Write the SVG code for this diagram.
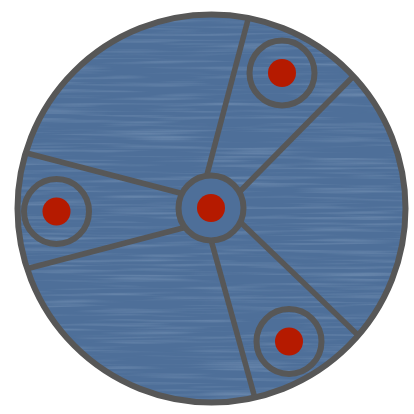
<svg xmlns="http://www.w3.org/2000/svg" width="414" height="414" viewBox="0 0 414 414">
  <style>
    .edge { stroke: #575757; stroke-width: 5.5; fill: none; stroke-linecap: butt; }
    .ring { stroke: #575757; stroke-width: 6; fill: none; }
    .dot { fill: #b51a00; }
  </style>
  <defs>
    <clipPath id="disc"><circle cx="211.5" cy="208.5" r="194"/></clipPath>
    <filter id="streaks" x="0" y="0" width="100%" height="100%">
      <feTurbulence type="fractalNoise" baseFrequency="0.01 0.3" numOctaves="2" seed="3" result="n"/>
      <feColorMatrix in="n" type="matrix" values="0 0 0 0 0.40  0 0 0 0 0.53  0 0 0 0 0.70  0 0 0 1.4 -0.65"/>
    </filter>
  </defs>
  <rect width="414" height="414" fill="#ffffff"/>
  <g id="background" clip-path="url(#disc)">
    <rect x="0" y="0" width="414" height="414" fill="#4e6f99"/>
    <rect x="0" y="0" width="414" height="414" filter="url(#streaks)" opacity="0.5"/>
  </g>
  <g id="connectors" clip-path="url(#disc)">
    <line class="edge" x1="203.5" y1="187.8" x2="249.6" y2="13.5"/>
    <line class="edge" x1="231.8" y1="199.7" x2="355.8" y2="73.7"/>
    <line class="edge" x1="193.5" y1="196.5" x2="22.5" y2="152"/>
    <line class="edge" x1="196.2" y1="224.5" x2="25.9" y2="269"/>
    <line class="edge" x1="208" y1="228.9" x2="256.3" y2="403"/>
    <line class="edge" x1="232.5" y1="214.6" x2="359.6" y2="336.8"/>
  </g>
  <g id="outer">
    <circle class="ring" cx="211.5" cy="208.5" r="194"/>
  </g>
  <g id="node-center">
    <circle cx="211" cy="208" r="32.5" fill="#4e6f99" stroke="#575757" stroke-width="6"/>
    <circle class="dot" cx="211" cy="208" r="14"/>
  </g>
  <g id="node-top-right">
    <circle class="ring" cx="282" cy="73" r="32.5"/>
    <circle class="dot" cx="282" cy="73" r="14"/>
  </g>
  <g id="node-left">
    <circle class="ring" cx="56.5" cy="211.5" r="32.5"/>
    <circle class="dot" cx="56.5" cy="211.5" r="14"/>
  </g>
  <g id="node-bottom-right">
    <circle class="ring" cx="289" cy="341.5" r="32.5"/>
    <circle class="dot" cx="289" cy="341.5" r="14"/>
  </g>
</svg>
